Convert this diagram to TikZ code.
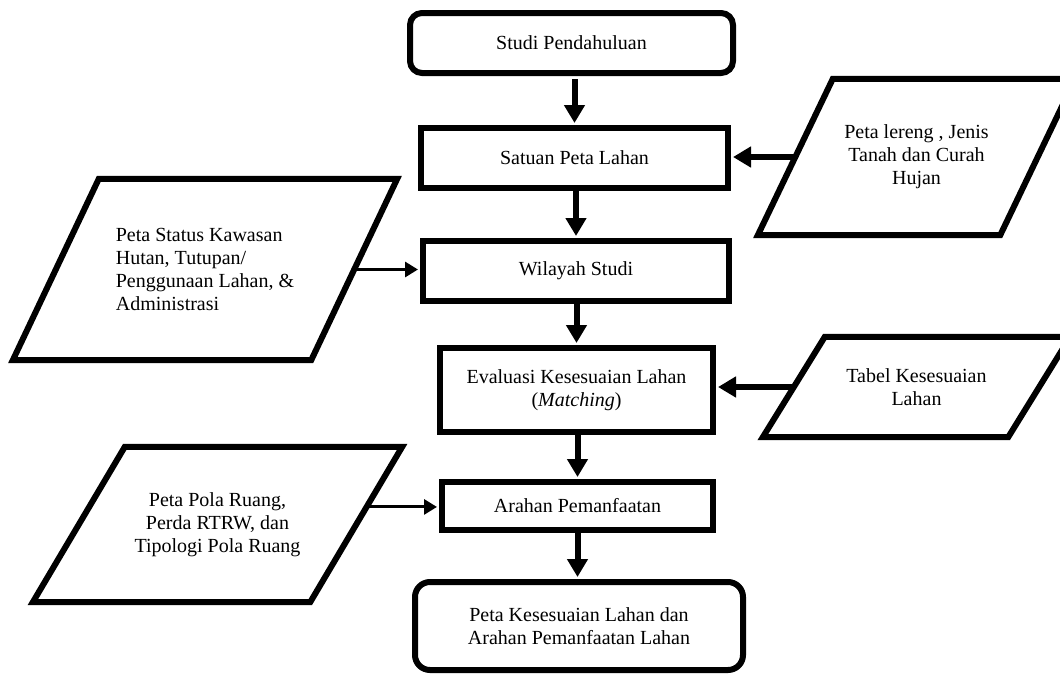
\documentclass[tikz,border=0pt]{standalone}
\usepackage{fontspec}
\setmainfont{Liberation Serif}
\usetikzlibrary{arrows.meta,calc}
\newcommand\drawpara[2]{\draw[paraline] (#1.south west) -- ($(#1.north west)+(#2,0)$) -- (#1.north east) -- ($(#1.south east)+(-#2,0)$) -- cycle;}
\begin{document}
\begin{tikzpicture}[x=1pt,y=-1pt,
  txt/.style={font=\fontsize{20}{23}\selectfont},
  proc/.style={draw,line width=6pt,rectangle,inner sep=0pt,align=center,txt},
  term/.style={proc,rounded corners=12pt},
  parabox/.style={rectangle,inner sep=0pt,txt},
  paraline/.style={line width=6pt,line join=miter},
  thickarrow/.style={line width=6pt,-{Triangle[length=18pt,width=20pt]}},
  thinarrow/.style={line width=3pt,-{Triangle[length=13pt,width=15pt]}}]
\useasboundingbox (0,0) rectangle (1060,675);

\node[term,minimum width=323pt,minimum height=60pt] (b1) at (571.5,43) {Studi Pendahuluan};
\node[proc,minimum width=307pt,minimum height=60pt] (b2) at (574.5,158) {Satuan Peta Lahan};
\node[proc,minimum width=306pt,minimum height=60pt] (b3) at (576,271) {Wilayah Studi};
\node[proc,minimum width=273pt,minimum height=84pt] (b4) at (576.5,390) {Evaluasi Kesesuaian Lahan\\(\textit{Matching})};
\node[proc,minimum width=271pt,minimum height=48pt] (b5) at (577.5,506) {Arahan Pemanfaatan};
\node[proc,rounded corners=15pt,minimum width=328pt,minimum height=88pt] (b6) at (579,626) {Peta Kesesuaian Lahan dan\\Arahan Pemanfaatan Lahan};

\node[parabox,align=left,minimum width=384pt,minimum height=181pt] (in1) at (205,269.5) {Peta Status Kawasan\\Hutan, Tutupan/\\Penggunaan Lahan, \&\\Administrasi};
\node[parabox,align=center,minimum width=317pt,minimum height=156pt] (in2) at (916.5,157) {Peta lereng , Jenis\\Tanah dan Curah\\Hujan};
\node[parabox,align=center,minimum width=307pt,minimum height=100pt] (in3) at (916.5,387) {Tabel Kesesuaian\\Lahan};
\node[parabox,align=center,minimum width=369pt,minimum height=155pt] (in4) at (217.5,524.5) {Peta Pola Ruang,\\Perda RTRW, dan\\Tipologi Pola Ruang};
\drawpara{in1}{86}
\drawpara{in2}{75}
\drawpara{in3}{62}
\drawpara{in4}{92}

\coordinate (s1) at ($($(in1.south east)+(-86,0)$)!0.5!(in1.north east)$);
\coordinate (s2) at ($(in2.south west)!0.5!($(in2.north west)+(75,0)$)$);
\coordinate (s3) at ($(in3.south west)!0.5!($(in3.north west)+(62,0)$)$);
\coordinate (s4) at ($($(in4.south east)+(-92,0)$)!0.613!(in4.north east)$);

\draw[thickarrow,shorten <=3pt,shorten >=2pt] (b1.south -| b2.north) -- (b2.north);
\draw[thickarrow,shorten >=2pt] (b2.south -| b3.north) -- (b3.north);
\draw[thickarrow,shorten >=2pt] (b3.south -| b4.north) -- (b4.north);
\draw[thickarrow,shorten >=2pt] (b4.south -| b5.north) -- (b5.north);
\draw[thickarrow,shorten >=2pt] (b5.south) -- (b5.south |- b6.north);

\draw[thickarrow,shorten >=2pt] (s2) -- (s2 -| b2.east);
\draw[thickarrow,shorten >=2pt] (s3) -- (s3 -| b4.east);
\draw[thinarrow,shorten >=2pt] (s1) -- (s1 -| b3.west);
\draw[thinarrow,shorten >=2pt] (s4) -- (s4 -| b5.west);
\end{tikzpicture}
\end{document}
